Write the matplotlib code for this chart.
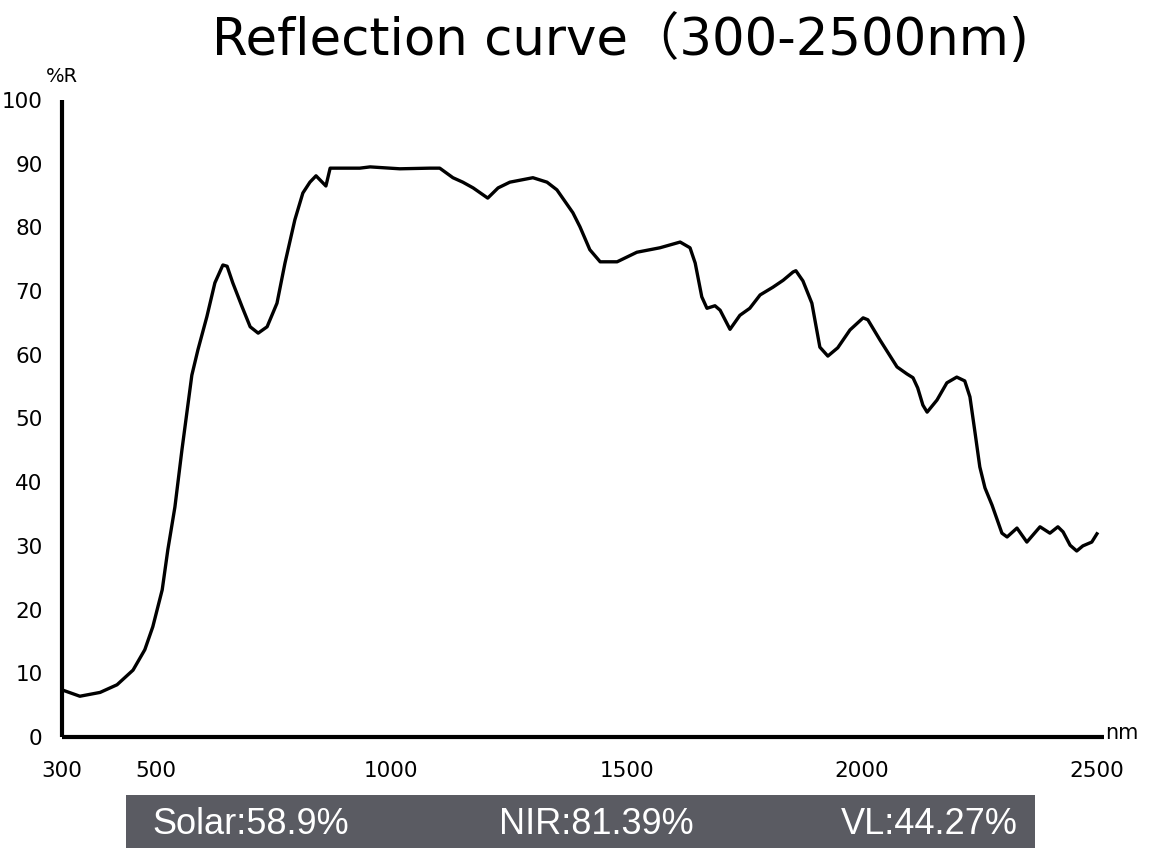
import matplotlib
matplotlib.use("Agg")
import matplotlib.pyplot as plt
from matplotlib.patches import Rectangle

# Wavelength (nm) and reflectance (%R)
wavelength = [300, 338, 381, 417, 451, 476, 493, 513, 525, 540, 555, 576, 589, 608,
              625, 642, 651, 663, 683, 700, 717, 736, 757, 774, 795, 812, 827, 840,
              861, 870, 933, 955, 1018, 1082, 1103, 1131, 1152, 1174, 1205, 1227,
              1252, 1301, 1331, 1352, 1386, 1401, 1422, 1444, 1480, 1522, 1571, 1614,
              1635, 1646, 1660, 1671, 1688, 1699, 1720, 1741, 1762, 1784, 1811, 1833,
              1854, 1860, 1875, 1894, 1911, 1928, 1949, 1975, 2003, 2013, 2039, 2075,
              2096, 2109, 2119, 2130, 2139, 2160, 2181, 2202, 2219, 2230, 2241, 2251,
              2262, 2277, 2298, 2309, 2330, 2351, 2379, 2400, 2417, 2428, 2443, 2457,
              2470, 2489, 2500]
reflectance = [7.4, 6.4, 7.0, 8.2, 10.5, 13.7, 17.3, 23.1, 29.4, 36.1, 45.1, 56.8, 60.8, 66.0,
               71.3, 74.1, 73.9, 71.3, 67.5, 64.4, 63.4, 64.4, 68.1, 74.4, 81.2, 85.4, 87.1, 88.1,
               86.5, 89.3, 89.3, 89.5, 89.2, 89.3, 89.3, 87.8, 87.1, 86.2, 84.6, 86.2,
               87.1, 87.8, 87.1, 85.9, 82.3, 80.1, 76.5, 74.6, 74.6, 76.1, 76.8, 77.7,
               76.8, 74.4, 69.1, 67.3, 67.7, 67.0, 64.0, 66.2, 67.3, 69.4, 70.6, 71.7,
               73.0, 73.2, 71.6, 68.1, 61.2, 59.8, 61.1, 63.9, 65.8, 65.5, 62.3, 58.1,
               57.0, 56.4, 54.8, 52.1, 51.0, 52.9, 55.6, 56.5, 55.9, 53.4, 47.7, 42.4,
               39.1, 36.4, 32.0, 31.4, 32.8, 30.6, 33.0, 32.0, 33.0, 32.2, 30.1, 29.2,
               30.0, 30.6, 31.9]

x_ticks = [300, 500, 1000, 1500, 2000, 2500]
y_ticks = [0, 10, 20, 30, 40, 50, 60, 70, 80, 90, 100]
title_text = "Reflection curve\uff08300-2500nm)"
summary_labels = ["Solar:58.9%", "NIR:81.39%", "VL:44.27%"]

W, H = 1158, 857
fig = plt.figure(figsize=(W / 100, H / 100), dpi=100)
ax = fig.add_axes([62 / W, 1 - 737 / H, (1104 - 62) / W, (737 - 100) / H])

ax.plot(wavelength, reflectance, color="black", lw=2.4, solid_joinstyle="round")
ax.set_xlim(300, 2515)
ax.set_ylim(0, 100)
ax.set_xticks(x_ticks)
ax.set_yticks(y_ticks)
ax.tick_params(axis="both", length=0, labelsize=15.5, colors="black")
ax.tick_params(axis="y", pad=14)
ax.tick_params(axis="x", pad=17)
for s in ["top", "right"]:
    ax.spines[s].set_visible(False)
for s in ["left", "bottom"]:
    ax.spines[s].set_linewidth(3)
    ax.spines[s].set_color("black")
    ax.spines[s].set_capstyle("butt")

fig.text(620 / W, 1 - 41 / H, title_text, ha="center", va="center",
         fontsize=37, family=["DejaVu Sans", "Noto Sans CJK SC"])
fig.text(62 / W, 1 - 76 / H, "%R", ha="center", va="center", fontsize=14)
fig.text(1105 / W, 1 - 733 / H, "nm", ha="left", va="center", fontsize=15)

rect = Rectangle((126 / W, 1 - 848 / H), (1035 - 126) / W, (848 - 795) / H,
                 transform=fig.transFigure, facecolor="#5a5b62", edgecolor="none")
fig.patches.append(rect)
yc = 1 - 824 / H
fig.text(152 / W, yc, summary_labels[0], ha="left", va="center", color="white",
         fontsize=26, family="Liberation Sans")
fig.text(596 / W, yc, summary_labels[1], ha="center", va="center", color="white",
         fontsize=26, family="Liberation Sans")
fig.text(1018 / W, yc, summary_labels[2], ha="right", va="center", color="white",
         fontsize=26, family="Liberation Sans")

fig.savefig("out.png", dpi=100)
